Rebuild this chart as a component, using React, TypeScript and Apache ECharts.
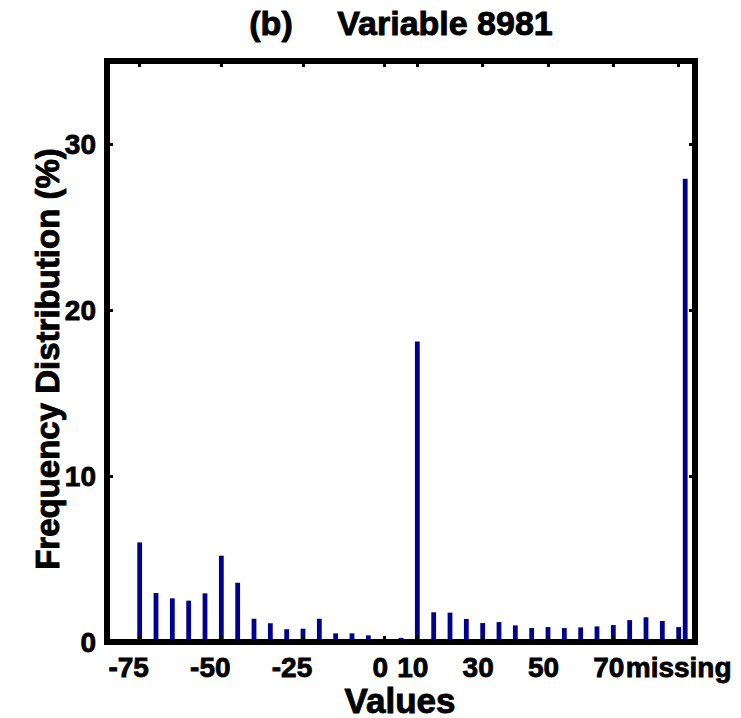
import React, { useEffect, useRef } from "react";
import * as echarts from "echarts";

const binValues = [
  -80, -75, -70, -65, -60, -55, -50, -45, -40, -35, -30, -25, -20, -15, -10, -5,
  0, 5, 10, 15, 20, 25, 30, 35, 40, 45, 50, 55, 60, 65, 70, 75, 80, 85, 90,
];
const frequencies = [
  0.12, 6.0, 2.95, 2.63, 2.49, 2.93, 5.2, 3.57, 1.4, 1.13, 0.77, 0.8, 1.4, 0.52, 0.52, 0.4,
  0.1, 0.25, 18.1, 1.79, 1.77, 1.39, 1.14, 1.2, 1.0, 0.84, 0.9, 0.84, 0.88, 0.94, 1.02, 1.32,
  1.49, 1.27, 0.9,
];
const missingPosition = 92;
const missingFrequency = 27.9;

const xTickValues = [-75, -50, -25, 0, 10, 30, 50, 70, 90];
const xTickLabels = ["-75", "-50", "-25", "0", "10", "30", "50", "70", "missing"];
const yTickValues = [0, 10, 20, 30];

const FONT = "'Liberation Sans', Arial, Helvetica, sans-serif";

export default function App() {
  const ref = useRef<HTMLDivElement>(null);

  useEffect(() => {
    if (!ref.current) return;
    const chart = echarts.init(ref.current, null, { renderer: "svg" });

    const data = binValues.map((v, i) => [v, frequencies[i]]);
    data.push([missingPosition, missingFrequency]);

    const baseText = {
      fontFamily: FONT,
      fontWeight: "bold" as const,
      fontSize: 28,
      color: "#000",
      textBorderColor: "#000",
      textBorderWidth: 0.8,
    };

    const xLabelFormatter = (v: number) => {
      const idx = xTickValues.indexOf(v);
      const txt = idx >= 0 ? xTickLabels[idx] : String(v);
      if (txt === "missing") return `{m|${txt}}`;
      if (v < 0) return `{n|${txt}}`;
      return `{p|${txt}}`;
    };

    const axisLine = {
      show: true,
      onZero: false,
      lineStyle: { color: "#000", width: 6, cap: "square" as const },
    };
    const tick = (vals: number[]) => ({
      show: true,
      inside: true,
      length: 6,
      customValues: vals,
      lineStyle: { color: "#000", width: 3 },
    });

    const bigText = (text: string, x: number, y: number, size: number, rotation = 0) => ({
      type: "text",
      x,
      y,
      rotation,
      style: {
        text,
        fontFamily: FONT,
        fontWeight: "bold",
        fontSize: size,
        fill: "#000",
        stroke: "#000",
        lineWidth: 0.9,
        textAlign: "center",
        textVerticalAlign: "middle",
      },
    });

    chart.setOption({
      animation: false,
      backgroundColor: "#fff",
      grid: { left: 107, right: 46, top: 61, bottom: 76, containLabel: false },
      xAxis: [
        {
          type: "value",
          position: "bottom",
          min: -85,
          max: 95,
          z: 10,
          axisLine,
          splitLine: { show: false },
          axisTick: tick(xTickValues),
          axisLabel: {
            show: true,
            margin: 11,
            customValues: xTickValues,
            formatter: xLabelFormatter,
            ...baseText,
            rich: {
              n: { ...baseText, padding: [0, 22, 0, 0] },
              p: { ...baseText, padding: [0, 9, 0, 0] },
              m: { ...baseText },
            },
          },
        },
        {
          type: "value",
          position: "top",
          min: -85,
          max: 95,
          z: 10,
          axisLine,
          splitLine: { show: false },
          axisTick: tick(xTickValues),
          axisLabel: { show: false },
        },
      ],
      yAxis: [
        {
          type: "value",
          position: "left",
          min: 0,
          max: 35,
          z: 10,
          axisLine,
          splitLine: { show: false },
          axisTick: tick(yTickValues),
          axisLabel: {
            show: true,
            margin: 11,
            customValues: yTickValues,
            ...baseText,
          },
        },
        {
          type: "value",
          position: "right",
          min: 0,
          max: 35,
          z: 10,
          axisLine,
          splitLine: { show: false },
          axisTick: tick(yTickValues),
          axisLabel: { show: false },
        },
      ],
      series: [
        {
          type: "bar",
          xAxisIndex: 0,
          yAxisIndex: 0,
          data,
          barWidth: 4.8,
          itemStyle: { color: "#00008F" },
          z: 2,
        },
      ],
      graphic: [
        bigText("(b)", 271, 23, 34),
        bigText("Variable 8981", 445, 23, 34),
        bigText("Values", 400, 700, 35),
        bigText("Frequency Distribution (%)", 47, 359, 33, Math.PI / 2),
      ],
    });

    return () => chart.dispose();
  }, []);

  return <div ref={ref} style={{ width: 741, height: 718, position: "absolute", left: 0, top: 0 }} />;
}
